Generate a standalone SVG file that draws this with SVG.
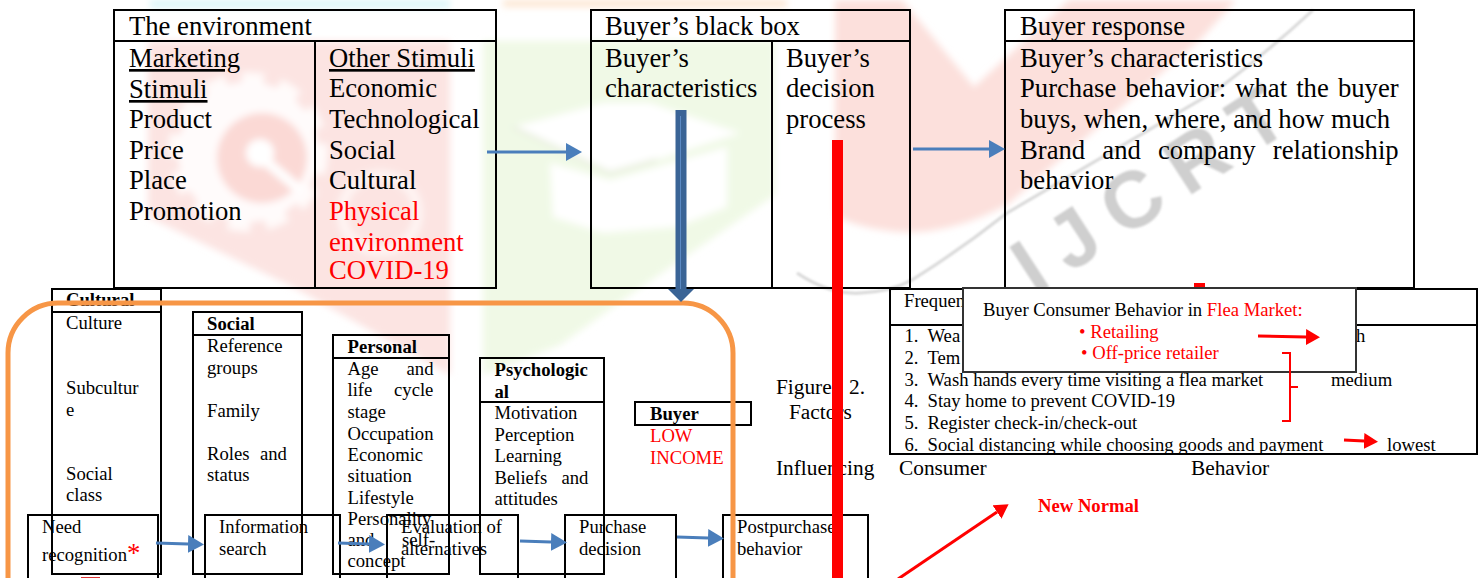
<svg xmlns="http://www.w3.org/2000/svg" width="1483" height="578" viewBox="0 0 1483 578">
<style>
text{font-family:"Liberation Serif","Times New Roman",serif;fill:#000;white-space:pre}
.l{font-size:26.67px}.m{font-size:18.67px}.f{font-size:21.33px}
.b{font-weight:bold}.r{fill:#f00}.u{text-decoration:underline}
.box{fill:none;stroke:#000;stroke-width:2}
.wm{font-family:"Liberation Sans",sans-serif;font-weight:bold;font-size:80px;fill:#cfcfcf}
</style>
<defs>
<marker id="blue" markerUnits="userSpaceOnUse" markerWidth="17" markerHeight="18" refX="0" refY="9" orient="auto"><path d="M0 0L16 9L0 18Z" fill="#4a7ebb"/></marker>
<marker id="navy" markerUnits="userSpaceOnUse" markerWidth="13" markerHeight="26" refX="0" refY="13" orient="auto"><path d="M0 0L13 13L0 26Z" fill="#3a6496"/></marker>
<marker id="red" markerUnits="userSpaceOnUse" markerWidth="15" markerHeight="16" refX="0" refY="8" orient="auto"><path d="M0 0L14 8L0 16Z" fill="#f00"/></marker>
<filter id="soft"><feGaussianBlur stdDeviation="1.2"/></filter>
<filter id="soft2"><feGaussianBlur stdDeviation="3.5"/></filter>
</defs>
<g id="watermark">
<g filter="url(#soft2)">
<path d="M150 0H450V8H150Z" fill="#dcf6f8"/>
<path d="M503 0H787V7H503Z" fill="#fde6d2"/>
<path d="M148 41H450V375L293 287L148 217Z" fill="#fce4e2"/>
<path d="M483 41H775V195L637 290L560 345L483 375Z" fill="#f0f9e6"/>
<path d="M835 0H902L974 87L1069 0H1236L1200 40L1007 205Q940 240 883 230Q850 225 835 215Z" fill="#fce0dc"/>
<circle cx="248" cy="152" r="70" fill="#fff" opacity=".85"/>
<circle cx="248" cy="152" r="74" fill="none" stroke="#fff" stroke-width="12" stroke-dasharray="22 16" opacity=".8"/>
<circle cx="262" cy="158" r="45" fill="#fbd9d5"/>
<circle cx="260" cy="153" r="14" fill="#fff"/>
<path d="M262 158L300 190" stroke="#fff" stroke-width="10" fill="none"/>
<circle cx="380" cy="213" r="38" fill="none" stroke="#fff" stroke-width="10" opacity=".6"/>
<path d="M513 127L603 103H650L740 133L657 160L610 173Z" fill="#fff"/>
<path d="M550 163L610 180L727 147V207L677 227L603 233L553 217Z" fill="#fff"/>
<path d="M513 127L610 173L657 160" fill="none" stroke="#e4ead8" stroke-width="3"/>
</g>
<path d="M797 273Q830 295 860 293Q890 292 912 280Q960 250 1007 213L1217 90Q1270 50 1313 10" fill="none" stroke="#d8d8d8" stroke-width="3" filter="url(#soft)"/>
<g filter="url(#soft)"><text class="wm" transform="translate(1035 296) rotate(-33)" letter-spacing="19">IJCRT</text></g>
</g>
<g id="environment">
<rect class="box" x="114" y="10" width="382" height="278"/>
<path class="box" d="M114 41H496M315 41V288"/>
<text class="l" x="129" y="35">The environment</text>
<text class="l u" x="129" y="67">Marketing</text>
<text class="l u" x="129" y="98">Stimuli</text>
<text class="l" x="129" y="128">Product</text>
<text class="l" x="129" y="159">Price</text>
<text class="l" x="129" y="189">Place</text>
<text class="l" x="129" y="220">Promotion</text>
<text class="l u" x="329" y="67">Other Stimuli</text>
<text class="l" x="329" y="97">Economic</text>
<text class="l" x="329" y="128">Technological</text>
<text class="l" x="329" y="159">Social</text>
<text class="l" x="329" y="189">Cultural</text>
<text class="l r" x="329" y="220">Physical</text>
<text class="l r" x="329" y="251">environment</text>
<text class="l r" x="329" y="279">COVID-19</text>
</g>
<g id="black-box">
<rect class="box" x="591" y="10" width="319" height="278"/>
<path class="box" d="M591 41H910M772 41V288"/>
<text class="l" x="605" y="35">Buyer’s black box</text>
<text class="l" x="605" y="67">Buyer’s</text>
<text class="l" x="605" y="97">characteristics</text>
<text class="l" x="786" y="67">Buyer’s</text>
<text class="l" x="786" y="97">decision</text>
<text class="l" x="786" y="128">process</text>
</g>
<g id="response">
<rect class="box" x="1005" y="10" width="409" height="278"/>
<path class="box" d="M1005 41H1414"/>
<text class="l" x="1020" y="35">Buyer response</text>
<text class="l" x="1020" y="67">Buyer’s characteristics</text>
<text class="l" x="1020" y="97" word-spacing="2.5">Purchase behavior: what the buyer</text>
<text class="l" x="1020" y="128">buys, when, where, and how much</text>
<text class="l" x="1020" y="159" word-spacing="10.5">Brand and company relationship</text>
<text class="l" x="1020" y="189">behavior</text>
</g>
<g id="cultural">
<rect class="box" x="52" y="289" width="109" height="285"/>
<path class="box" d="M52 312H161"/>
<text class="m b" x="66" y="306">Cultural</text>
<text class="m" x="66" y="329">Culture</text>
<text class="m" x="66" y="394">Subcultur</text>
<text class="m" x="66" y="416">e</text>
<text class="m" x="66" y="480">Social</text>
<text class="m" x="66" y="501">class</text>
</g>
<g id="social">
<rect class="box" x="193" y="312" width="109" height="262"/>
<path class="box" d="M193 335H302"/>
<text class="m b" x="207" y="330">Social</text>
<text class="m" x="207" y="352">Reference</text>
<text class="m" x="207" y="374">groups</text>
<text class="m" x="207" y="417">Family</text>
<text class="m" x="207" y="460" word-spacing="5.8">Roles and</text>
<text class="m" x="207" y="481">status</text>
</g>
<g id="personal">
<rect class="box" x="333" y="335" width="116" height="239"/>
<path class="box" d="M333 358H449"/>
<text class="m b" x="347.5" y="353">Personal</text>
<text class="m" x="347.5" y="375" word-spacing="23.3">Age and</text>
<text class="m" x="347.5" y="396" word-spacing="17">life cycle</text>
<text class="m" x="347.5" y="418">stage</text>
<text class="m" x="347.5" y="440">Occupation</text>
<text class="m" x="347.5" y="461">Economic</text>
<text class="m" x="347.5" y="482">situation</text>
<text class="m" x="347.5" y="504">Lifestyle</text>
<text class="m" x="347.5" y="525">Personality</text>
<text class="m" x="347.5" y="546">and</text>
<text class="m" x="402" y="546">self-</text>
<text class="m" x="347.5" y="567">concept</text>
</g>
<g id="psychological">
<rect class="box" x="480" y="358" width="124" height="216"/>
<path class="box" d="M480 402H604"/>
<text class="m b" x="494.5" y="376">Psychologic</text>
<text class="m b" x="494.5" y="398">al</text>
<text class="m" x="494.5" y="419">Motivation</text>
<text class="m" x="494.5" y="441">Perception</text>
<text class="m" x="494.5" y="462">Learning</text>
<text class="m" x="494.5" y="484" word-spacing="9.5">Beliefs and</text>
<text class="m" x="494.5" y="505">attitudes</text>
</g>
<g id="buyer">
<rect class="box" x="635" y="402" width="116" height="23"/>
<text class="m b" x="650" y="420">Buyer</text>
<text class="m r" x="650" y="442">LOW</text>
<text class="m r" x="650" y="464">INCOME</text>
</g>
<g id="figure-caption">
<text class="f" x="776" y="394">Figure</text>
<text class="f" x="849" y="394">2.</text>
<text class="f" x="789" y="419">Factors</text>
<text class="f" x="776" y="475">Influencing</text>
<text class="f" x="899" y="475">Consumer</text>
<text class="f" x="1191" y="475">Behavior</text>
</g>
<g id="need">
<rect class="box" x="28" y="515" width="130" height="70"/>
<text class="m" x="42" y="533">Need</text>
<text class="m" x="42" y="561">recognition</text>
<text x="127" y="562" font-size="26.67" class="r">*</text>
</g>
<g id="information">
<rect class="box" x="205" y="515" width="135" height="70"/>
<text class="m" x="219" y="533">Information</text>
<text class="m" x="219" y="555">search</text>
</g>
<g id="evaluation">
<rect class="box" x="387" y="515" width="131" height="70"/>
<text class="m" x="401" y="533">Evaluation of</text>
<text class="m" x="401" y="555">alternatives</text>
</g>
<g id="purchase">
<rect class="box" x="565" y="515" width="111" height="70"/>
<text class="m" x="579" y="533">Purchase</text>
<text class="m" x="579" y="555">decision</text>
</g>
<g id="postpurchase">
<rect class="box" x="723" y="515" width="145" height="70"/>
<text class="m" x="737" y="533">Postpurchase</text>
<text class="m" x="737" y="555">behavior</text>
</g>
<g id="frequency-table">
<rect class="box" x="890" y="289" width="587" height="165"/>
<path class="box" d="M890 325H1477"/>
<text class="m" x="904" y="307">Frequen</text>
<text class="m" x="904.5" y="342">1.</text><text class="m" x="927.5" y="342">Wea</text>
<text class="m" x="904.5" y="364">2.</text><text class="m" x="927.5" y="364">Tem</text>
<text class="m" x="904.5" y="386">3.</text><text class="m" x="927.5" y="386">Wash hands every time visiting a flea market</text>
<text class="m" x="904.5" y="407">4.</text><text class="m" x="927.5" y="407">Stay home to prevent COVID-19</text>
<text class="m" x="904.5" y="429">5.</text><text class="m" x="927.5" y="429">Register check-in/check-out</text>
<text class="m" x="904.5" y="451">6.</text><text class="m" x="927.5" y="451">Social distancing while choosing goods and payment</text>
<text class="m" x="1331" y="386">medium</text>
<text class="m" x="1387" y="451">lowest</text>
<text class="m" x="1356" y="342">h</text>
</g>
<text class="m b r" x="1038" y="512">New Normal</text>
<g id="connectors">
<path d="M8 578V353A50 50 0 0 1 58 303H683A50 50 0 0 1 733 353V578" fill="none" stroke="#f79646" stroke-width="5"/>
<line x1="681" y1="110" x2="681" y2="289" stroke="#3a6496" stroke-width="11" marker-end="url(#navy)"/>
<line x1="680.5" y1="116" x2="680.5" y2="289" stroke="#5b8ac4" stroke-width="1"/>
<rect x="832" y="140" width="11" height="438" fill="#f00"/>
<rect x="1194" y="283" width="11" height="5" fill="#f00"/>
<g stroke="#4a7ebb" stroke-width="3" fill="none">
<line x1="487" y1="152" x2="566" y2="152" marker-end="url(#blue)"/>
<line x1="913" y1="149" x2="989" y2="149" marker-end="url(#blue)"/>
<line x1="156" y1="543" x2="188" y2="544" marker-end="url(#blue)"/>
<line x1="338" y1="543" x2="369" y2="544" marker-end="url(#blue)"/>
<line x1="520" y1="541" x2="551" y2="542" marker-end="url(#blue)"/>
<line x1="677" y1="537" x2="708" y2="538" marker-end="url(#blue)"/>
</g>
<line x1="898" y1="579" x2="997" y2="512" stroke="#f00" stroke-width="3" marker-end="url(#red)"/>
</g>
<g id="popup">
<rect x="963" y="288" width="393" height="84" fill="#fff" stroke="#333" stroke-width="2"/>
<text class="m" x="983" y="316">Buyer Consumer Behavior in <tspan class="r">Flea Market:</tspan></text>
<text class="m r" x="1079" y="338">• Retailing</text>
<text class="m r" x="1081" y="359">• Off-price retailer</text>
</g>
<g id="popup-connectors" fill="none" stroke="#f00">
<line x1="1258" y1="336" x2="1306" y2="337" stroke-width="3" marker-end="url(#red)"/>
<path d="M1282 353H1290V387H1298M1290 387V421H1282" stroke-width="2"/>
<line x1="1344" y1="440" x2="1364" y2="441" stroke-width="3" marker-end="url(#red)"/>
</g>
<rect x="81" y="577" width="19" height="1" fill="#d33"/>
</svg>
